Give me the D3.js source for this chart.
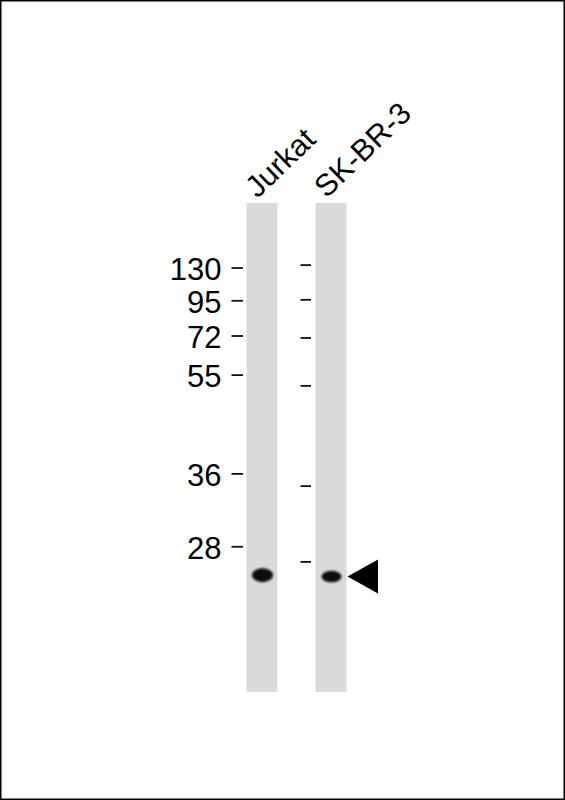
<!DOCTYPE html>
<html>
<head>
<meta charset="utf-8">
<script src="https://cdn.jsdelivr.net/npm/d3@7/dist/d3.min.js"></script>
<style>
  html, body { margin: 0; padding: 0; background: #fff; }
  svg { display: block; }
  text { font-family: "Liberation Sans", Arial, Helvetica, sans-serif; fill: #000; }
</style>
</head>
<body>
<div id="chart"></div>
<script>
// ---- data ----
const lanes = ["Jurkat", "SK-BR-3"];
// molecular weight marker labels (kDa)
const markerLabels = ["130", "95", "72", "55", "36", "28"];
// relative migration (fraction of lane length) of each marker, per lane ladder
const markerMigrationJurkat = [0.133, 0.200, 0.272, 0.352, 0.554, 0.703];
const markerMigrationSKBR3  = [0.127, 0.198, 0.276, 0.374, 0.579, 0.734];
// detected band: relative migration and intensity per lane
const bandMigration = [0.761, 0.764];
const bandIntensity = [1.0, 0.82];
// arrow points at the band in lane
const arrowLane = "SK-BR-3";

const W = 565, H = 800;
const svg = d3.select("#chart").append("svg").attr("width", W).attr("height", H);

const defs = svg.append("defs");
defs.append("filter").attr("id", "blur").attr("x", "-50%").attr("y", "-50%")
  .attr("width", "200%").attr("height", "200%")
  .append("feGaussianBlur").attr("stdDeviation", 1.3);

// border
svg.append("rect").attr("x", 0.75).attr("y", 0.75).attr("width", W - 1.5).attr("height", H - 1.5)
  .attr("fill", "#fff").attr("stroke", "#000").attr("stroke-width", 1.5);

// scales
const x = d3.scaleBand().domain(lanes).range([246.5, 346.5]).paddingInner(0.551).paddingOuter(0);
const y = d3.scaleLinear().domain([0, 1]).range([203, 692]);

// lanes
svg.selectAll("rect.lane").data(lanes).join("rect").attr("class", "lane")
  .attr("x", d => x(d)).attr("y", y(0))
  .attr("width", x.bandwidth()).attr("height", y(1) - y(0))
  .attr("fill", "#dadada");

// marker ticks
const ladders = [markerMigrationJurkat, markerMigrationSKBR3];
lanes.forEach((lane, i) => {
  const g = svg.append("g");
  g.selectAll("line").data(ladders[i]).join("line")
    .attr("x1", x(lane) - 15).attr("x2", x(lane) - (i === 0 ? 3.5 : 4.5))
    .attr("y1", d => y(d)).attr("y2", d => y(d))
    .attr("stroke", "#111").attr("stroke-width", 1.8);
});

// marker labels (left of first lane)
svg.append("g").selectAll("text").data(markerLabels).join("text")
  .attr("x", x(lanes[0]) - 25)
  .attr("y", (d, i) => y(markerMigrationJurkat[i]))
  .attr("dy", "0.39em")
  .attr("text-anchor", "end")
  .attr("font-size", 31)
  .text(d => d);

// bands
svg.append("g").selectAll("ellipse").data(lanes).join("ellipse")
  .attr("cx", d => x(d) + x.bandwidth() / 2 + 0.5)
  .attr("cy", (d, i) => y(bandMigration[i]))
  .attr("rx", (d, i) => 10.5 - (1 - bandIntensity[i]) * 3)
  .attr("ry", (d, i) => 7 * bandIntensity[i])
  .attr("fill", "#0a0a0a")
  .attr("filter", "url(#blur)");

// arrow
const ai = lanes.indexOf(arrowLane);
const ax = x(arrowLane) + x.bandwidth() + 1, ay = y(bandMigration[ai]);
svg.append("path")
  .attr("d", d3.line()([[ax, ay], [ax + 30.5, ay - 17], [ax + 30.5, ay + 17]]) + "Z")
  .attr("fill", "#000");

// lane labels, rotated
svg.append("g").selectAll("text").data(lanes).join("text")
  .attr("transform", d => `translate(${x(d) + 11},${y(0) - 4}) rotate(-44)`)
  .attr("font-size", 30.5)
  .text(d => d);
</script>
</body>
</html>
